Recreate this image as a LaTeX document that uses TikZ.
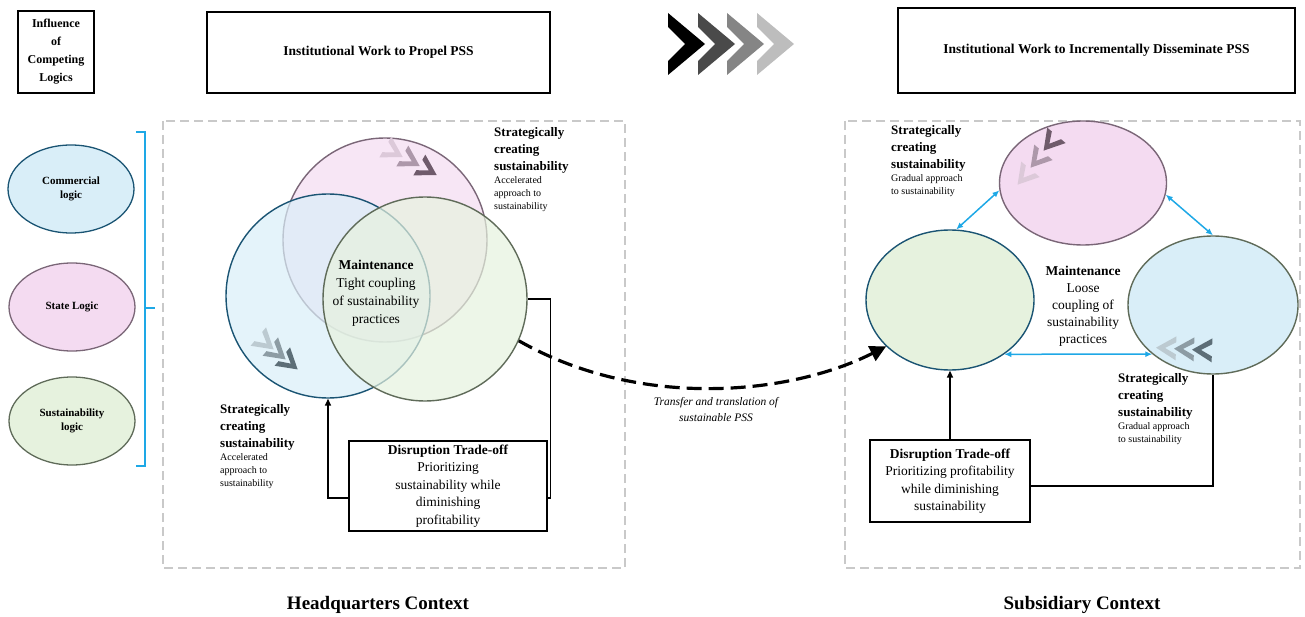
\documentclass[tikz,border=0pt]{standalone}
\usepackage{fontspec}
\setmainfont{Liberation Serif}
\usetikzlibrary{arrows.meta,shapes.geometric,calc,positioning}

\definecolor{commfill}{HTML}{D9EEF8}
\definecolor{commline}{HTML}{1A5473}
\definecolor{statefill}{HTML}{F4DBF1}
\definecolor{stateline}{HTML}{7A6677}
\definecolor{sustfill}{HTML}{E6F2DE}
\definecolor{sustline}{HTML}{5F6B59}
\definecolor{linkblue}{HTML}{1EA8E6}
\definecolor{framegray}{HTML}{C9C9C9}
\definecolor{chevdark}{HTML}{4A4A4A}
\definecolor{chevmid}{HTML}{858585}
\definecolor{chevlight}{HTML}{BDBDBD}
\definecolor{statechA}{HTML}{DCC9D9}
\definecolor{statechB}{HTML}{AD98AA}
\definecolor{statechC}{HTML}{6F5B6B}
\definecolor{commchA}{HTML}{BCCAD1}
\definecolor{commchB}{HTML}{8D9CA4}
\definecolor{commchC}{HTML}{5D6E77}

\tikzset{
  chevbig/.pic={\path[pic actions] (0,0) -- (37,31) -- (0,62) -- (0,48) -- (17,31) -- (0,14) -- cycle;},
  chevsm/.pic={\path[pic actions] (-10,-12) -- (10,0) -- (-10,12) -- (-10,6) -- (1,0) -- (-10,-6) -- cycle;}
}

\begin{document}
\begin{tikzpicture}[x=1pt,y=-1pt,
  hdbox/.style={draw, line width=1.8pt, inner sep=0pt, align=center, font=\bfseries\fontsize{13.5}{16}\selectfont},
  logic/.style={ellipse, draw, line width=1.3pt, minimum width=126, minimum height=88, align=center, font=\bfseries\fontsize{11}{14}\selectfont},
  vcirc/.style={circle, draw, line width=1.4pt, minimum size=204, fill opacity=0.7},
  subell/.style={ellipse, draw, line width=1.4pt},
  ctx/.style={draw=framegray, line width=1.3pt, dash pattern=on 9pt off 5pt},
  strat/.style={align=left, anchor=north west, inner sep=0pt, font=\bfseries\fontsize{13}{17}\selectfont},
  stratnote/.style={align=left, inner sep=0pt, font=\fontsize{10}{13}\selectfont},
  tradebox/.style={draw, line width=1.8pt, fill=white, align=center, inner sep=1pt, font=\fontsize{13.5}{17.5}\selectfont},
  feed/.style={line width=1.5pt},
  link/.style={linkblue, line width=1.5pt, {Latex[length=7pt,width=6pt]}-{Latex[length=7pt,width=6pt]}},
  transfer/.style={line width=3.2pt, dash pattern=on 15pt off 7pt, -{Triangle[length=16pt,width=16pt]}}
]
\useasboundingbox (0,0) rectangle (1305,617);

% headings
\node[hdbox, minimum width=76, minimum height=82, font=\bfseries\fontsize{12}{18}\selectfont] (influence) at (56,52) {Influence\\of\\Competing\\Logics};
\node[hdbox, minimum width=343, minimum height=81] (propel) at (378.5,52.5) {Institutional Work to Propel PSS};
\node[hdbox, minimum width=397, minimum height=85] (dissem) at (1096.5,50.5) {Institutional Work to Incrementally Disseminate PSS};
\foreach \cx/\cc in {668/black,698/chevdark,727/chevmid,757/chevlight}
  \pic[fill=\cc] at (\cx,13) {chevbig};

% competing logics
\node[logic, fill=commfill, draw=commline] (commLogic) at (71,189) {Commercial\\logic};
\node[logic, fill=statefill, draw=stateline] (stateLogic) at (72,307) {State Logic};
\node[logic, fill=sustfill, draw=sustline] (sustLogic) at (72,421) {Sustainability\\logic};
\draw[linkblue, line width=1.6pt] (136,132) -- (145,132) -- (145,466) -- (136,466);
\draw[linkblue, line width=1.6pt] (145,308) -- (155,308);

% contexts
\draw[ctx] (163,121) rectangle (625,568);
\draw[ctx] (845,121) rectangle (1300,568);

% headquarters
\node[vcirc, fill=statefill, draw=stateline] (hqState) at (385,240) {};
\node[vcirc, fill=commfill, draw=commline] (hqComm) at (328,296) {};
\node[vcirc, fill=sustfill, draw=sustline] (hqSust) at (425,299) {};
\foreach \px/\py/\cc in {394/152/statechA,411/161/statechB,428/170/statechC}
  \pic[fill=\cc, rotate=-30] at (\px,\py) {chevsm};
\foreach \px/\py/\cc in {266/343/commchA,278/353/commchB,290/363/commchC}
  \pic[fill=\cc, rotate=-40] at (\px,\py) {chevsm};

\node[align=center, font=\fontsize{13.5}{18}\selectfont] (hqMaint) at (376,293) {\textbf{Maintenance}\\Tight coupling\\of sustainability\\practices};
\node[strat] (hqStratTop) at (494,127) {Strategically\\creating\\sustainability};
\node[stratnote, below=3pt of hqStratTop.south west, anchor=north west] (hqNoteTop) {Accelerated\\approach to\\sustainability};
\node[strat] (hqStratLow) at (220,404) {Strategically\\creating\\sustainability};
\node[stratnote, below=3pt of hqStratLow.south west, anchor=north west] (hqNoteLow) {Accelerated\\approach to\\sustainability};

\node[tradebox, minimum width=198, minimum height=90] (hqTrade) at (448,486) {\textbf{Disruption Trade-off}\\Prioritizing\\sustainability while\\diminishing\\profitability};
\draw[feed, -{Triangle[length=7pt,width=6pt]}] ([yshift=-12pt]hqTrade.west) -| (hqComm.south);
\draw[feed] ([yshift=-12pt]hqTrade.east) -| ($(hqSust.east)+(23,0)$) -- (hqSust.east);

% subsidiary
\node[subell, fill=statefill, draw=stateline, minimum width=167, minimum height=124] (subState) at (1083,183) {};
\node[subell, fill=sustfill, draw=commline, minimum width=168, minimum height=140] (subSust) at (950,300) {};
\node[subell, fill=commfill, draw=sustline, minimum width=170, minimum height=138] (subComm) at (1213,305) {};
\foreach \px/\py/\cc in {1024/177/statechA,1037/160/statechB,1050/143/statechC}
  \pic[fill=\cc, rotate=230] at (\px,\py) {chevsm};
\foreach \px/\py/\cc in {1166/348/commchA,1184/349/commchB,1202/350/commchC}
  \pic[fill=\cc, rotate=178] at (\px,\py) {chevsm};

\draw[link] (subState.185) -- (subSust.85);
\draw[link] (subState.-8) -- (subComm.north);
\draw[link] (subSust.-45.5) -- (subComm.219.2);

\node[align=center, font=\fontsize{13.5}{17}\selectfont] (subMaint) at (1083,306) {\textbf{Maintenance}\\Loose\\coupling of\\sustainability\\practices};
\node[strat] (subStratTop) at (891,125) {Strategically\\creating\\sustainability};
\node[stratnote, below=3pt of subStratTop.south west, anchor=north west] (subNoteTop) {Gradual approach\\to sustainability};
\node[strat] (subStratLow) at (1118,373) {Strategically\\creating\\sustainability};
\node[stratnote, below=3pt of subStratLow.south west, anchor=north west] (subNoteLow) {Gradual approach\\to sustainability};

\node[tradebox, minimum width=160, minimum height=82] (subTrade) at (950,481) {\textbf{Disruption Trade-off}\\Prioritizing profitability\\while diminishing\\sustainability};
\draw[feed, -{Triangle[length=7pt,width=6pt]}] (subTrade.north) -- (subSust.south);
\draw[feed] ([yshift=-5pt]subTrade.east) -| (subComm.south);

% transfer between contexts
\draw[transfer] (hqSust.-24) .. controls (640,410) and (790,395) .. (subSust.216);
\node[align=center, font=\itshape\fontsize{11.5}{16}\selectfont] (transferLbl) at (716,410) {Transfer and translation of\\sustainable PSS};

\node[font=\bfseries\fontsize{19}{22}\selectfont] (hqCtx) at (378,605) {Headquarters Context};
\node[font=\bfseries\fontsize{19}{22}\selectfont] (subCtx) at (1082,605) {Subsidiary Context};
\end{tikzpicture}
\end{document}
